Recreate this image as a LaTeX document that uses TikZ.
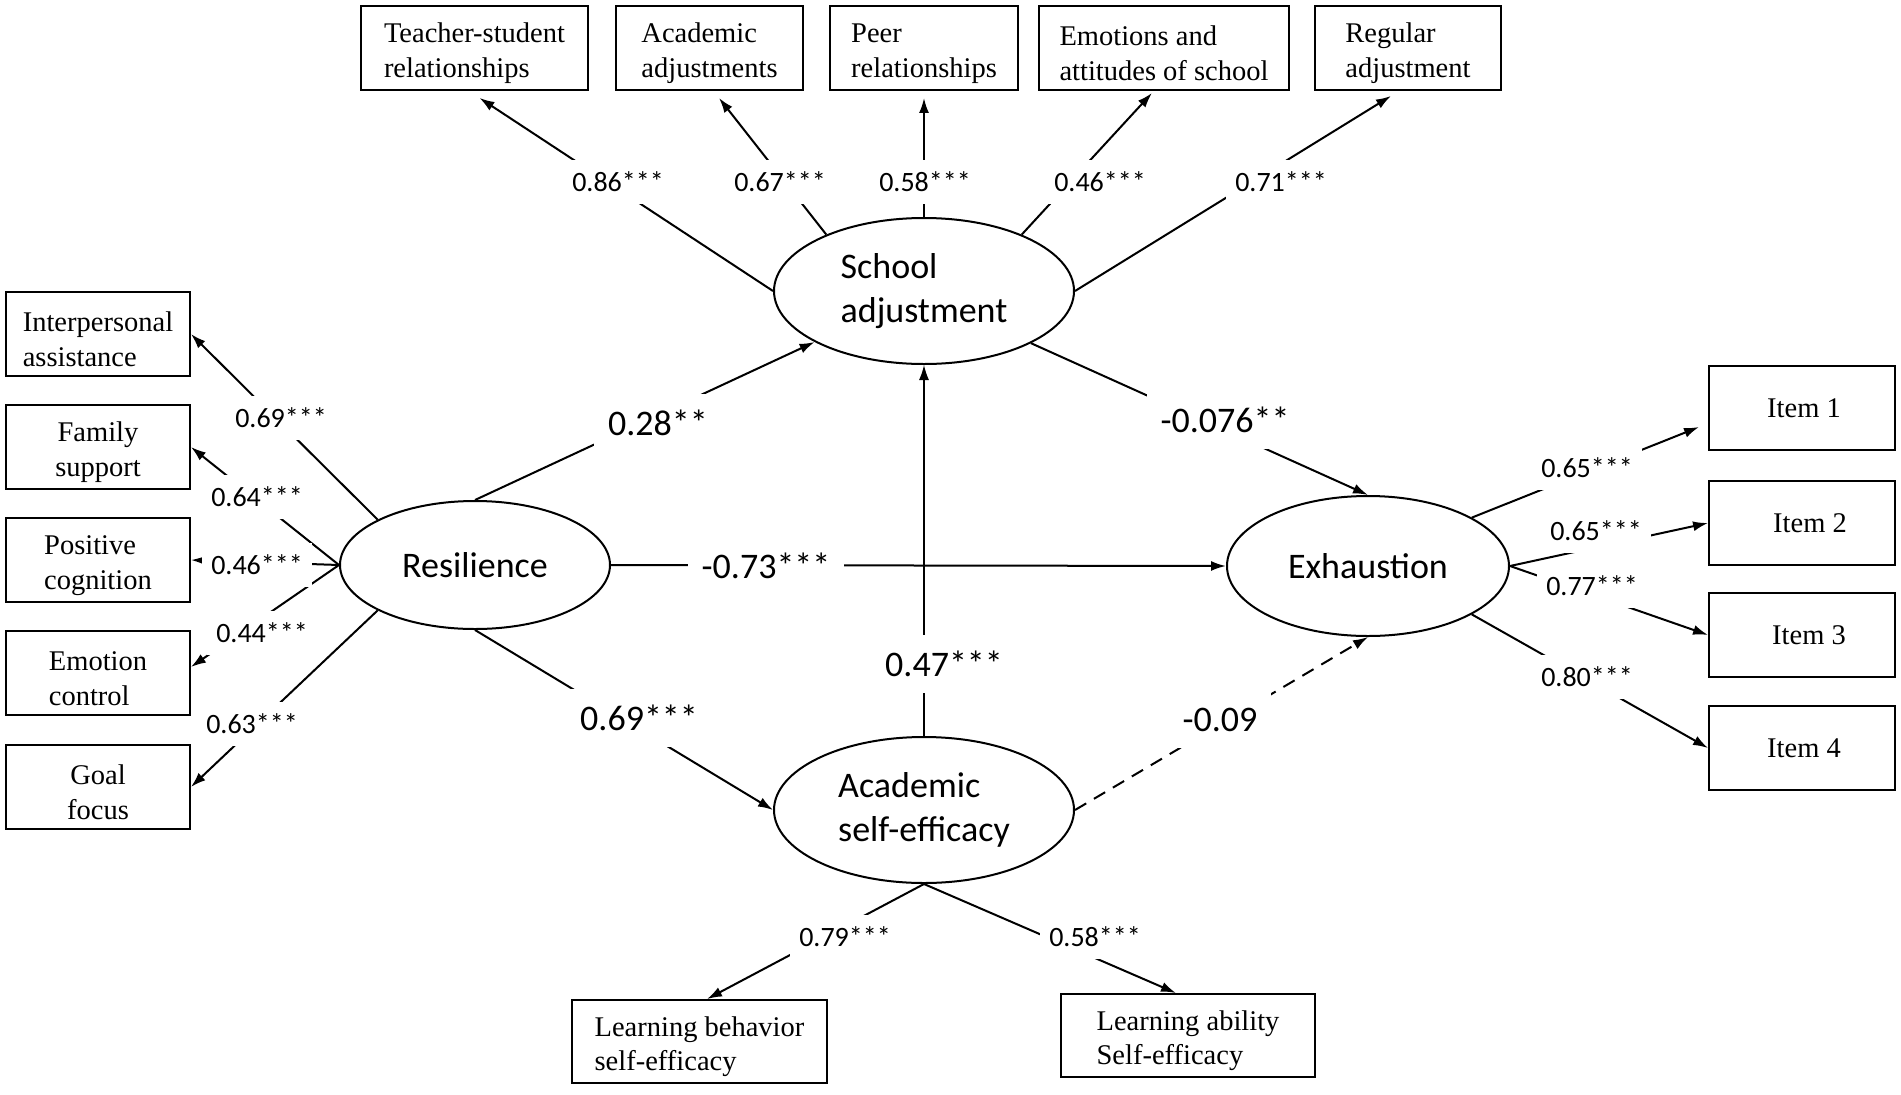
\documentclass[tikz,border=0pt]{standalone}
\usepackage{fontspec}
\setmainfont{Liberation Serif}
\newfontfamily\carl{Carlito}
\usetikzlibrary{shapes.geometric,arrows.meta}
\begin{document}
\begin{tikzpicture}[x=1pt,y=-1pt,
  box/.style={draw,line width=1.9pt,inner sep=0pt,minimum height=84pt,font=\fontsize{28.5}{34.5}\selectfont},
  lat/.style={ellipse,draw,line width=2pt,inner sep=0pt,minimum width=300pt,minimum height=146pt,font=\carl\fontsize{36}{44}\selectfont,align=left},
  lab/.style={fill=white,inner xsep=9pt,inner ysep=12pt,font=\carl\fontsize{28}{30}\selectfont},
  big/.style={fill=white,inner xsep=14pt,inner ysep=16pt,font=\carl\fontsize{36}{40}\selectfont},
  con/.style={line width=2pt,-{Latex[length=15pt,width=10pt]}}]
\useasboundingbox (0,0) rectangle (1901,1095);
\fill[white] (0,0) rectangle (1901,1095);

% latent variables
\node[lat] (sa) at (924,291) {School\\adjustment};
\node[lat,minimum width=270pt,minimum height=128pt] (res) at (475,565) {Resilience};
\node[lat,minimum width=282pt,minimum height=140pt] (ex) at (1368,566) {Exhaustion};
\node[lat] (ase) at (924,810) {Academic\\self-efficacy};

% top indicators
\node[box,minimum width=227pt,align=left] (ts) at (474.5,48) {\rule{0pt}{30pt}Teacher-student\\relationships};
\node[box,minimum width=187pt,align=left] (aa) at (709.5,48) {\rule{0pt}{30pt}Academic\\adjustments};
\node[box,minimum width=188pt,align=left] (pr) at (924,48) {\rule{0pt}{30pt}Peer\\relationships};
\node[box,minimum width=250pt,align=left] (ea) at (1164,48) {\rule{0pt}{30pt}Emotions and\\attitudes of school};
\node[box,minimum width=186pt,align=left] (ra) at (1408,48) {\rule{0pt}{30pt}Regular\\adjustment};

% left indicators
\node[box,minimum width=184pt,align=left] (ip) at (98,334) {\rule{0pt}{30pt}Interpersonal\\assistance};
\node[box,minimum width=184pt,align=center] (fs) at (98,447) {\rule{0pt}{30pt}Family\\support};
\node[box,minimum width=184pt,align=left] (pc) at (98,560) {\rule{0pt}{30pt}Positive\\cognition};
\node[box,minimum width=184pt,align=left] (ec) at (98,673) {\rule{0pt}{30pt}Emotion\\control};
\node[box,minimum width=184pt,align=center] (gf) at (98,787) {\rule{0pt}{30pt}Goal\\focus};

% right indicators
\node[box,minimum width=186pt] (i1) at (1802,408) {\hspace*{4pt}Item 1};
\node[box,minimum width=186pt] (i2) at (1802,523) {\hspace*{16pt}Item 2};
\node[box,minimum width=186pt] (i3) at (1802,635) {\hspace*{14pt}Item 3};
\node[box,minimum width=186pt] (i4) at (1802,748) {\hspace*{4pt}Item 4};

% bottom indicators
\node[box,minimum width=255pt,minimum height=83pt,align=left] (lb) at (699.5,1041.5) {\rule{0pt}{30pt}Learning behavior\\self-efficacy};
\node[box,minimum width=254pt,minimum height=83pt,align=left] (la) at (1188,1035.5) {\rule{0pt}{30pt}Learning ability\\Self-efficacy};

% top connectors
\draw[con] (sa.west) -- ([xshift=5pt,yshift=-7pt]ts.south);
\draw[con] (sa.150) -- ([xshift=9.5pt,yshift=-7pt]aa.south);
\draw[con] (sa.north) -- ([yshift=-7pt]pr.south);
\draw[con] (sa.30) -- ([xshift=-12pt,yshift=-2pt]ea.south);
\draw[con] (sa.east) -- ([xshift=-17pt,yshift=-5pt]ra.south);

% left connectors
\draw[con] (res.155) -- (ip.east);
\draw[con] (res.west) -- (fs.east);
\draw[con] (res.west) -- (pc.east);
\draw[con] (res.west) -- ([yshift=6pt]ec.east);
\draw[con] (res.205) -- (gf.east);

% right connectors
\draw[con] (ex.25) -- ([xshift=-9pt,yshift=-19pt]i1.west);
\draw[con] (ex.east) -- (i2.west);
\draw[con] (ex.east) -- (i3.west);
\draw[con] (ex.-25) -- (i4.west);

% structural paths
\draw[con] (res.north) -- (sa.205);
\draw[con] (sa.-26) -- (ex.north);
\draw[con] (res.east) -- (ex.west);
\draw[con] (res.south) -- (ase.west);
\draw[con,line width=1.3pt] (ase.north) -- (sa.south);
\draw[con,dash pattern=on 13pt off 9pt] (ase.east) -- (ex.south);

% bottom connectors
\draw[con] (ase.south) -- ([xshift=7.5pt]lb.north);
\draw[con] (ase.south) -- ([xshift=-12pt]la.north);

% labels
\node[lab] (l1) at (618,182) {0.86***};
\node[lab] (l2) at (780,182) {0.67***};
\node[lab] (l3) at (925,182) {0.58***};
\node[lab] (l4) at (1100,182) {0.46***};
\node[lab] (l5) at (1281,182) {0.71***};

\node[lab] (l6) at (281,418) {0.69***};
\node[lab] (l7) at (257,497) {0.64***};
\node[lab] (l8) at (257,565) {0.46***};
\node[lab] (l9) at (262,633) {0.44***};
\node[lab] (l10) at (252,724) {0.63***};

\node[lab] (l11) at (1587,468) {0.65***};
\node[lab] (l12) at (1596,531) {0.65***};
\node[lab] (l13) at (1592,586) {0.77***};
\node[lab] (l14) at (1587,677) {0.80***};

\node[lab] (l15) at (845,937) {0.79***};
\node[lab] (l16) at (1095,937) {0.58***};

\node[big] (p1) at (658,423) {0.28**};
\node[big] (p2) at (1225,420) {-0.076**};
\node[big] (p3) at (766,566) {-0.73***};
\node[big] (p4) at (944,664) {0.47***};
\node[big] (p5) at (639,718) {0.69***};
\node[big] (p6) at (1220,720) {-0.09};
\end{tikzpicture}
\end{document}
